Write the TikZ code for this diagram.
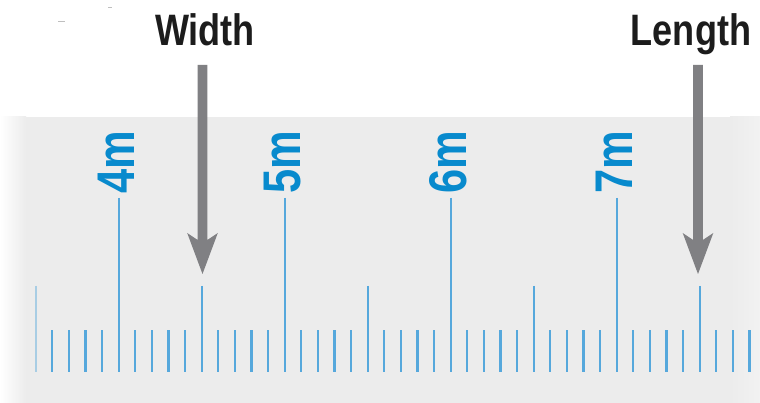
\documentclass[tikz,border=0pt]{standalone}
\usepackage{fontspec}
\setmainfont{Liberation Sans}
\newfontfamily\narrowbold[FakeStretch=0.82]{Liberation Sans}
\definecolor{bandgrey}{RGB}{236,236,236}
\definecolor{arrowgrey}{RGB}{128,128,131}
\definecolor{tickblue}{RGB}{86,168,220}
\definecolor{labblue}{RGB}{8,138,205}
\definecolor{titleblack}{RGB}{28,28,28}
\tikzset{
  title/.style={font=\narrowbold\bfseries\fontsize{44}{44}\selectfont, text=titleblack, inner sep=0pt},
  lab/.style={font=\narrowbold\bfseries\fontsize{53}{53}\selectfont, text=labblue, inner sep=0pt, rotate=90, anchor=base},
  tick/.style={draw=tickblue, line width=2.2pt},
  downarrow/.pic={
    \fill[arrowgrey] (-4.8,0) -- (4.8,0) -- (4.8,175) -- (15.3,168) -- (0,209)
      -- (-15.3,168) -- (-4.8,175) -- cycle;
  }
}
\begin{document}
\begin{tikzpicture}[x=1pt,y=-1pt]
\useasboundingbox (0,0) rectangle (760,403);
\fill[white] (0,0) rectangle (760,403);
% band
\fill[bandgrey] (0,117) rectangle (760,403);
\shade[left color=white, right color=bandgrey] (0,117) rectangle (26,403);
\shade[left color=bandgrey, right color=bandgrey!70!white] (730,117) rectangle (760,403);
% tiny marks
\draw[black!25, line width=0.8pt] (58,21) -- (65,21);
\draw[black!25, line width=0.8pt] (108,7.5) -- (112,7.5);
% ticks
\foreach \k in {0,...,43}{
  \pgfmathsetmacro\xx{35.7+16.6*\k}
  \pgfmathtruncatemacro\mm{mod(\k,10)}
  \ifnum\k=0
    \draw[tick, draw opacity=0.45] (\xx,286) -- (\xx,372);
  \else\ifnum\mm=0
    \draw[tick] (\xx,286) -- (\xx,372);
  \else\ifnum\mm=5
    \draw[tick, line width=1.8pt] (\xx,198) -- (\xx,372);
  \else
    \draw[tick] (\xx,330) -- (\xx,372);
  \fi\fi\fi
}
% labels
\node[lab] (m4) at (134.5,162) {4m};
\node[lab] (m5) at (300.5,162) {5m};
\node[lab] (m6) at (466.5,162) {6m};
\node[lab] (m7) at (632.5,162) {7m};
% titles
\node[title, anchor=base] (width) at (205,46) {Width};
\node[title, anchor=base] (length) at (691,46) {Length};
% arrows
\coordinate (wtop) at (202.5,65);
\coordinate (ltop) at (698,65);
\pic at (wtop) {downarrow};
\pic at (ltop) {downarrow};
\end{tikzpicture}
\end{document}
